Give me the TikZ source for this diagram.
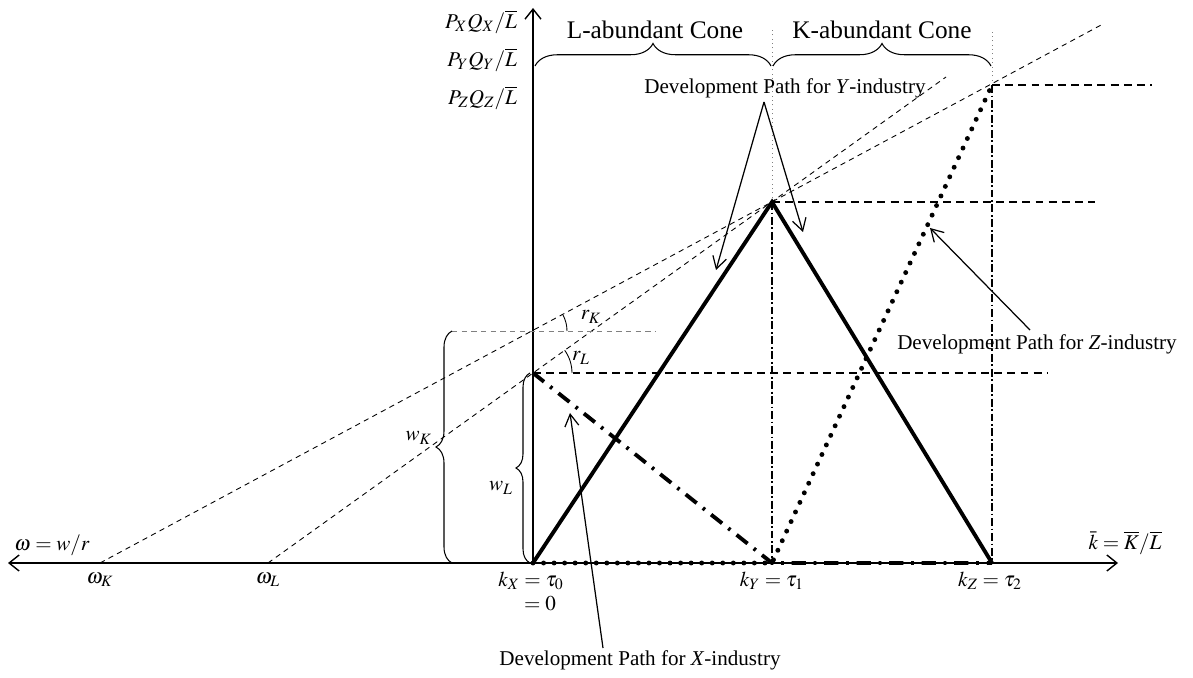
\documentclass[tikz,border=0pt]{standalone}
\usepackage{mathptmx}
\usepackage[no-math]{fontspec}
\setmainfont{Liberation Serif}
\usetikzlibrary{arrows.meta,positioning,decorations.pathreplacing}

\begin{document}
\begin{tikzpicture}[x=0.02cm, y=-0.02cm,
    >={Straight Barb[length=2mm,width=3.2mm]},
    lbl/.style={font=\fontsize{12}{14}\selectfont, inner sep=1pt},
    cone/.style={font=\fontsize{14.4}{16}\selectfont, inner sep=1pt},
    axis/.style={line width=0.8pt},
    arr/.style={line width=0.7pt, -{Straight Barb[length=2.4mm,width=2.8mm]}},
    pathY/.style={line width=2.2pt},
    pathX/.style={line width=2.2pt, dash pattern=on 8pt off 4.5pt on 1.5pt off 4.5pt},
    pathZ/.style={line width=2.8pt, line cap=round, dash pattern=on 0pt off 6pt},
    guide/.style={line width=0.9pt, dash pattern=on 4.5pt off 3pt},
    ray/.style={line width=0.5pt, dash pattern=on 3pt off 2.5pt},
    level/.style={line width=0.6pt, dash pattern=on 4.5pt off 1.5pt on 1pt off 1.5pt},
    faint/.style={line width=0.5pt, gray, dotted},
    brc/.style={decorate, line width=0.6pt}]
\useasboundingbox (0,0) rectangle (1193,678);
% key points
\coordinate (O) at (533,563);
\coordinate (kY) at (772,563);
\coordinate (kZ) at (992,563);
\coordinate (Xtop) at (533,373);
\coordinate (Ytop) at (772,202);
\coordinate (Ztop) at (992,85);
\coordinate (rK) at (533,331);
\coordinate (oK) at (100,563);
\coordinate (oL) at (268,563);
\coordinate (xleft) at (8,563);
\coordinate (xright) at (1118,563);
\coordinate (ytop) at (533,8);
% axes
\draw[axis, <->] (xleft) -- (xright);
\draw[axis, ->] (O) -- (ytop);
% rays from omega_K and omega_L
\draw[ray] (oK) -- (1103,24);
\draw[ray] (oL) -- (946,77);
\draw[ray, gray] (452,331) -- (655,331);
% guide lines
\draw[faint] (Ytop) -- (772,28);
\draw[faint] (Ztop) -- (992,32);
\draw[level] (Ytop) -- (kY);
\draw[level] (Ztop) -- (kZ);
\draw[guide] (Ztop) -- (1152,85);
\draw[guide] (Ytop) -- (1095,202);
\draw[guide] (Xtop) -- (1048,373);
% development paths
\draw[pathY] (O) -- (Ytop) -- (kZ);
\draw[pathX] (Xtop) -- (kY) -- (kZ);
\draw[pathZ] (O) -- (kY) -- (Ztop);
% angles
\draw[line width=0.5pt] (rK) ++(0.68cm,0) arc[start angle=0, end angle=28, radius=0.68cm];
\draw[line width=0.5pt] (Xtop) ++(0.78cm,0) arc[start angle=0, end angle=35.6, radius=0.78cm];
\node[lbl] (rKl) at (591,317) {$r_K$};
\node[lbl] (rLl) at (581,358) {$r_L$};
% braces
\draw[brc, decoration={brace, amplitude=0.45cm}] (535,66) -- (771,66);
\draw[brc, decoration={brace, amplitude=0.45cm}] (773,66) -- (991,66);
\draw[brc, decoration={brace, amplitude=0.32cm}] (452,563) -- (452,331);
\draw[brc, decoration={brace, amplitude=0.28cm}] (530,563) -- (530,373);
\node[cone] (Lcone) at (655,30) {L-abundant Cone};
\node[cone] (Kcone) at (882,30) {K-abundant Cone};
\node[lbl, anchor=east] (wKl) at (434,438) {$w_K$};
\node[lbl, anchor=east] (wLl) at (515,488) {$w_L$};
% axis labels
\node[lbl, anchor=east] (PX) at (519,22) {$P_XQ_X/\overline{L}$};
\node[lbl, anchor=east] (PY) at (519,60) {$P_YQ_Y/\overline{L}$};
\node[lbl, anchor=east] (PZ) at (519,98) {$P_ZQ_Z/\overline{L}$};
\node[lbl] (om) at (52,545) {$\omega = w/r$};
\node[lbl] (kb) at (1125,543) {$\bar{k} = \overline{K}/\overline{L}$};
\node[lbl] (omK) at (100,580) {$\omega_K$};
\node[lbl] (omL) at (268,580) {$\omega_L$};
\node[lbl] (kXl) at (531,581) {$k_X = \tau_0$};
\node[lbl] (kX0) at (540,604) {$= 0$};
\node[lbl] (kYl) at (772,581) {$k_Y = \tau_1$};
\node[lbl] (kZl) at (990,581) {$k_Z = \tau_2$};
% annotations
\node[lbl] (devY) at (785,88) {Development Path for \textit{Y}-industry};
\node[lbl] (devZ) at (1037,344) {Development Path for \textit{Z}-industry};
\node[lbl] (devX) at (640,660) {Development Path for \textit{X}-industry};
\coordinate (yfork) at (764,102);
\coordinate (yleft) at (716,270);
\coordinate (yright) at (803,232);
\coordinate (ztail) at (1030,330);
\coordinate (zhead) at (930,228);
\coordinate (xtail) at (603,648);
\coordinate (xhead) at (570,413);
\draw[arr] (yfork) -- (yleft);
\draw[arr] (yfork) -- (yright);
\draw[arr] (ztail) -- (zhead);
\draw[arr] (xtail) -- (xhead);
\end{tikzpicture}
\end{document}
